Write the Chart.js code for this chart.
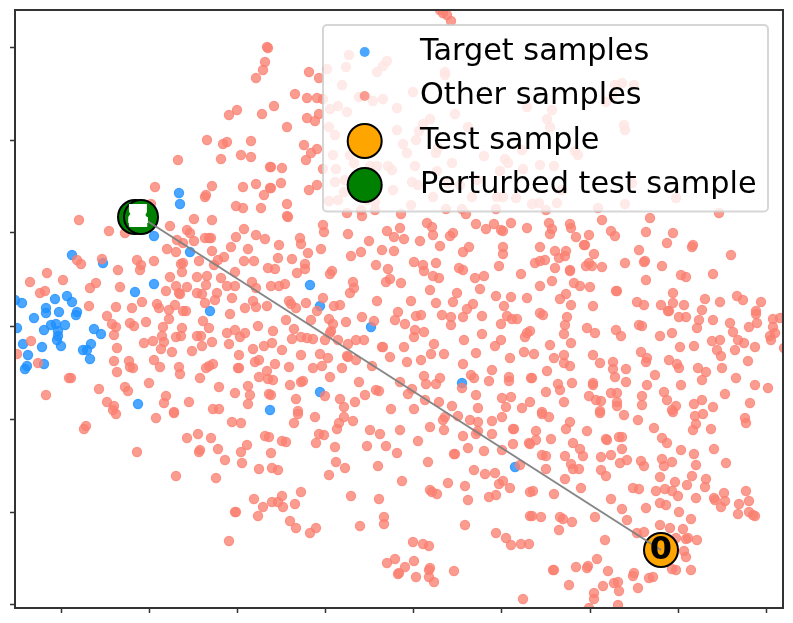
<!DOCTYPE html>
<html>
<head>
<meta charset="utf-8">
<title>Samples</title>
<script src="https://cdn.jsdelivr.net/npm/chart.js@4"></script>
<style>
  html, body { margin: 0; background: #fff; }
  canvas { display: block; }
</style>
</head>
<body>
<canvas id="chart" width="793" height="623" aria-label="Embedding of target and other samples"></canvas>
<script>
// values, axes have no printed units
const xTicks = [-352, -264, -176, -88, 0, 88, 177, 265, 353];
const yTicks = [278, 185, 93, 0, -93, -186, -278];

const legendLabels = ['Target samples', 'Other samples', 'Test sample', 'Perturbed test sample'];
const testLabel = '0';
const perturbedLabels = ['2', '1', '7', '4', '3', '8'];

const testSample = [[248, -224]];
const perturbedSamples = [[-278, 109], [-272, 109]];
const moveLine = [[248, -224], [-272, 109]];

const targetSamples = [
  [-234,133],[-233,122],[-259,90],[-223,74],[-341,71],[-310,63],[-259,42],[-278,34],[-398,26],[-391,23],
  [-358,27],[-346,30],[-341,24],[-367,18],[-367,13],[-354,14],[-336,14],[-337,11],[-379,8],[-203,15],
  [-396,-2],[-369,-4],[-362,1],[-357,2],[-348,1],[-355,-5],[-355,-10],[-356,-14],[-352,-20],[-319,-3],
  [-312,-8],[-390,-18],[-371,-21],[-385,-29],[-322,-18],[-330,-24],[-326,-24],[-323,-33],[-369,-38],[-386,-40],
  [-388,-43],[-275,-78],[-143,-84],[-103,41],[-93,20],[-42,-1],[49,-57],[-93,-66],[102,-141]
];

const otherSamples = [
  // upper left
  [-146,279],[-145,278],[-148,264],[-150,256],[-157,248],[-176,216],[-184,211],[-151,212],[-206,186],[-190,182],
  [-186,184],[-162,185],[-192,167],[-172,171],[-162,169],[-235,166],[-258,139],[-201,140],[-207,131],[-208,129],
  [-170,139],[-157,142],[-149,131],[-177,120],[-170,118],[-152,118],[-262,122],[-143,159],[-143,138],
  // middle left
  [-334,106],[-304,95],[-288,93],[-243,100],[-219,107],[-201,106],[-226,96],[-223,93],[-236,86],[-230,83],
  [-219,85],[-208,88],[-204,88],[-202,88],[-169,97],[-177,89],[-157,91],[-148,87],[-246,77],[-237,74],
  [-201,75],[-182,79],[-165,77],[-214,65],[-195,66],[-189,69],[-199,61],[-169,65],[-159,65],[-336,66],
  [-332,62],[-311,67],[-276,66],[-272,61],[-273,56],[-259,65],[-295,56],[-230,63],[-232,62],[-231,54],
  [-178,54],[-145,58],[-366,53],[-383,44],[-350,46],[-317,43],[-323,38],[-293,39],[-243,49],[-216,49],
  [-206,50],[-192,48],[-207,41],[-161,44],[-373,33],[-368,35],[-237,40],[-226,39],[-247,35],[-234,33],
  [-233,32],[-216,33],[-211,32],[-196,33],[-186,40],[-178,40],[-157,38],[-181,28],[-198,26],[-208,23],
  [-160,25],[-271,24],[-324,20],[-297,19],[-281,18],[-256,22],[-254,18],[-244,16],[-238,21],[-230,15],
  [-227,15],[-168,18],[-157,19],[-146,20],[-183,12],[-306,10],[-301,2],[-297,-1],[-299,-9],[-283,3],
  [-279,0],[-267,4],[-244,7],[-250,-1],[-231,-2],[-210,5],[-204,-2],[-155,0],[-186,-7],[-178,-4],
  [-173,-11],[-168,-7],[-251,-10],[-237,-11],[-232,-10],[-216,-10],[-212,-10],[-382,-15],[-269,-17],[-260,-15],
  [-249,-16],[-201,-16],[-211,-20],[-184,-18],[-296,-22],[-252,-23],[-241,-26],[-221,-25],[-160,-23],[-149,-20],
  [-174,-29],[-396,-28],[-375,-37],[-299,-35],[-284,-35],[-283,-41],[-280,-42],[-259,-34],[-253,-41],[-234,-41],
  [-200,-38],[-204,-40],[-207,-42],[-175,-42],[-174,-42],[-158,-36],[-154,-34],[-296,-46],[-233,-48],[-213,-52],
  [-154,-51],[-146,-45],[-145,-53],[-344,-52],[-342,-52],[-264,-57],[-314,-63],[-288,-61],[-285,-65],[-194,-61],
  [-165,-60],[-163,-69],[-178,-67],[-367,-69],[-247,-70],[-249,-77],[-224,-76],[-306,-76],[-299,-80],[-165,-78],
  [-144,-68],[-200,-83],[-194,-83],[-239,-86],
  // lower left
  [-327,-100],[-329,-103],[-297,-88],[-300,-84],[-257,-92],[-239,-87],[-181,-96],[-172,-97],[-226,-112],[-215,-108],
  [-202,-112],[-148,-110],[-144,-111],[-276,-126],[-213,-124],[-214,-126],[-195,-123],[-166,-119],[-172,-126],[-142,-127],
  [-188,-134],[-171,-137],[-154,-143],[-141,-142],[-237,-150],[-197,-152],[-159,-173],[-141,-176],[-150,-181],[-178,-186],
  [-177,-186],[-155,-190],[-184,-215],
  // under and around the legend
  [-104,254],[-94,248],[-118,232],[-106,228],[-96,228],[-90,227],[-139,220],[-106,208],[-98,205],[-94,212],
  [-126,199],[-109,181],[-102,173],[-96,177],[-107,166],[-142,159],[-131,158],[-90,157],[-132,143],[-142,138],
  [-104,136],[-96,141],[-126,122],[27,316],[30,313],[34,311],[38,305],[-64,271],[-86,257],[-67,259],
  [-26,265],[-30,260],[-36,254],[32,254],[32,251],[-71,241],[0,234],[-54,229],[-40,225],[-30,227],
  [-83,217],[-75,220],[-66,214],[-16,218],[42,212],[17,207],[10,202],[-84,199],[-16,196],[55,199],
  [-78,191],[3,186],[6,195],[-10,182],[-6,173],[-80,171],[-63,171],[23,173],[25,178],[71,170],
  [92,167],[95,163],[-59,163],[-43,160],[-36,160],[-25,160],[-21,156],[2,160],[-77,157],[39,163],
  [24,155],[87,155],[-78,144],[-68,146],[-60,147],[-40,149],[-20,136],[-1,144],[5,141],[35,143],
  [47,141],[64,146],[-69,134],[-84,125],[-75,126],[-46,126],[-38,124],[-2,121],[59,129],[84,129],
  [90,129],[103,128],[20,129],
  [209,243],[202,241],[221,241],[193,224],[200,231],[114,219],[139,216],[134,207],[137,199],[211,201],
  [212,196],[162,175],[165,171],[109,176],[127,161],[141,160],[110,157],[149,136],[219,143],[263,128],
  [119,122],[126,123],[144,123],[185,118],[212,122],
  // centre
  [-126,110],[-125,109],[-66,113],[-52,116],[-51,110],[-38,116],[-12,112],[33,117],[49,117],[53,112],
  [83,117],[63,102],[73,97],[81,102],[88,96],[90,95],[98,103],[114,98],[14,103],[19,99],
  [20,91],[40,93],[37,90],[-13,98],[-26,95],[-19,89],[-9,87],[7,85],[27,80],[-90,101],
  [-89,94],[-65,92],[-113,88],[-112,82],[-134,81],[-105,73],[-92,77],[-44,85],[-52,74],[-62,70],
  [-31,76],[-19,75],[50,74],[56,79],[90,79],[90,72],[-135,68],[-121,67],[-108,62],[-108,57],
  [-138,57],[-116,53],[-37,61],[-25,57],[1,64],[10,61],[11,55],[23,63],[46,58],[50,56],
  [86,60],[108,52],[-81,55],[-83,52],[20,50],[26,48],[62,48],[71,50],[-23,47],[-27,44],
  [-12,43],[-60,44],[-59,38],[-63,33],[-142,40],[-134,40],[-128,42],[17,36],[67,37],[44,33],
  [83,30],[98,29],[114,28],[-90,28],[-124,25],[-122,22],[-117,18],[-107,23],[-36,25],[-2,25],
  [23,23],[40,24],[60,22],[54,17],[91,20],[-79,20],[-73,21],[-96,15],[-15,14],[3,10],
  [8,11],[29,11],[38,9],[50,9],[69,10],[94,10],[99,7],[104,7],[-127,6],[-102,6],
  [-84,7],[-80,2],[-67,4],[-51,9],[-39,5],[-18,6],[-8,2],[38,1],[88,2],[-119,-3],
  [-140,-5],[-82,-5],[-83,-7],[2,-4],[11,-6],[1,-11],[69,-8],[-121,-13],[-112,-11],[-106,-12],
  [-100,-13],[-88,-14],[-75,-14],[-65,-18],[-57,-14],[-49,-14],[-141,-17],[-131,-24],[-31,-21],[-30,-21],
  [-9,-21],[21,-18],[51,-14],[88,-14],[82,-20],[114,-7],[112,-11],[-112,-29],[-93,-28],[-85,-32],
  [-66,-30],[-65,-31],[-57,-34],[-23,-31],[-6,-36],[8,-34],[18,-28],[31,-28],[63,-27],[97,-32],
  [111,-26],[-138,-38],[-124,-41],[-100,-42],[-91,-40],[-71,-42],[-41,-40],[50,-38],[79,-44],[-140,-54],
  [-83,-51],[58,-49],[61,-52],[96,-51],[96,-55],[76,-55],[-123,-59],[-112,-56],[-110,-55],[-54,-56],
  [-13,-56],[-1,-63],[11,-50],[13,-58],[23,-58],[27,-52],[49,-62],[-37,-64],[-34,-65],[-142,-69],
  [-117,-73],[-88,-70],[-73,-73],[-48,-69],[-58,-76],[-5,-68],[12,-74],[26,-76],[39,-80],[63,-69],
  [89,-72],[98,-71],[93,-81],[-69,-81],[1,-83],[-22,-83],[-115,-85],[65,-82],[109,-82],[117,-76],
  // lower centre
  [-115,-88],[-119,-97],[-98,-91],[-69,-91],[-74,-97],[-76,-103],[-60,-95],[-43,-104],[-33,-108],[-13,-104],
  [-131,-115],[-127,-116],[-94,-108],[-89,-109],[-97,-117],[-78,-121],[-46,-120],[-27,-120],[-16,-127],[5,-115],
  [-77,-136],[-68,-142],[-135,-144],[-84,-149],[-35,-140],[15,-136],[17,-101],[31,-104],[30,-94],[32,-91],
  [45,-90],[57,-94],[65,-96],[65,-105],[79,-95],[89,-91],[100,-103],[101,-103],[50,-110],[63,-108],
  [79,-108],[55,-122],[41,-128],[42,-128],[71,-125],[89,-124],[100,-118],[116,-117],[107,-139],[61,-144],
  [72,-148],[82,-147],[90,-155],[86,-158],[97,-162],[52,-160],[35,-157],[-11,-155],[17,-164],[19,-166],
  [24,-168],[-112,-166],[-62,-170],[-34,-173],[55,-174],[76,-171],[83,-169],[117,-166],[-131,-170],[-135,-176],
  [-130,-181],[-118,-178],[-123,-195],[-117,-202],[-97,-202],[-103,-207],[-53,-200],[-29,-191],[-29,-198],[52,-199],
  [117,-190],[83,-207],[93,-212],[98,-219],[108,-218],[116,-218],[0,-216],[10,-218],[16,-220],[-26,-237],
  [-18,-233],[-8,-241],[1,-235],[-15,-248],[-14,-247],[3,-251],[17,-242],[16,-244],[16,-251],[21,-256],
  [41,-245],[110,-273],
  // right
  [133,116],[136,103],[139,97],[137,92],[157,102],[158,98],[163,89],[176,91],[189,106],[198,95],
  [202,90],[237,108],[233,94],[260,93],[254,83],[280,81],[279,79],[171,81],[172,81],[127,79],
  [142,75],[153,75],[152,70],[146,68],[181,72],[226,76],[231,64],[232,65],[318,71],[306,113],
  [122,63],[127,65],[132,66],[142,58],[157,56],[157,55],[173,60],[176,63],[179,60],[189,59],
  [212,63],[249,60],[300,52],[268,51],[273,49],[233,46],[139,45],[127,40],[161,43],[167,40],
  [177,39],[203,35],[204,35],[260,33],[147,27],[153,32],[158,21],[180,20],[224,24],[231,21],
  [248,21],[260,23],[271,21],[292,27],[307,24],[324,30],[330,26],[348,24],[343,15],[343,12],
  [255,15],[256,15],[289,16],[127,13],[130,11],[154,9],[266,9],[273,9],[286,6],[300,6],
  [360,7],[367,8],[317,3],[344,3],[336,-1],[152,1],[226,1],[229,0],[174,-2],[182,-7],
  [203,-4],[208,-10],[284,-2],[259,-7],[247,-10],[151,-8],[117,-5],[320,-6],[360,-1],[362,-7],
  [357,-10],[358,-14],[371,-22],[299,-15],[307,-14],[325,-14],[331,-17],[342,-21],[322,-24],[304,-24],
  [308,-30],[281,-20],[267,-21],[158,-17],[137,-19],[121,-28],[228,-26],[234,-32],[233,-36],[180,-29],
  [151,-29],[141,-32],[151,-37],[157,-40],[187,-37],[200,-36],[200,-43],[213,-43],[202,-51],[256,-34],
  [264,-38],[266,-42],[285,-42],[293,-46],[309,-42],[335,-35],[323,-52],[289,-54],[268,-59],[242,-49],
  [134,-45],[118,-52],[119,-52],[213,-56],[234,-59],[342,-59],[355,-62],[145,-58],[147,-64],[159,-57],
  [180,-57],[180,-59],[133,-66],[176,-70],[183,-74],[188,-75],[198,-67],[204,-67],[204,-76],[204,-80],
  [229,-70],[229,-79],[251,-66],[254,-74],[263,-80],[259,-84],[281,-78],[289,-74],[300,-81],[312,-68],
  [337,-77],[151,-76],[187,-85],[129,-86],
  // lower right
  [129,-88],[136,-91],[187,-87],[211,-89],[157,-96],[153,-103],[123,-105],[174,-105],[225,-94],[241,-102],
  [260,-86],[282,-90],[290,-88],[283,-98],[280,-104],[298,-103],[332,-92],[333,-97],[193,-113],[194,-114],
  [206,-111],[209,-111],[138,-113],[123,-114],[117,-118],[160,-117],[167,-123],[170,-130],[209,-123],[249,-112],
  [254,-117],[268,-124],[281,-128],[301,-123],[152,-130],[129,-129],[133,-130],[188,-131],[198,-129],[158,-138],
  [160,-143],[166,-143],[133,-143],[188,-144],[193,-150],[207,-137],[214,-134],[228,-135],[231,-140],[249,-133],
  [259,-136],[251,-140],[283,-139],[313,-137],[247,-151],[279,-150],[293,-153],[292,-161],[274,-159],[262,-156],
  [152,-153],[168,-162],[120,-165],[141,-168],[220,-162],[226,-163],[243,-165],[252,-163],[259,-165],[265,-170],
  [283,-172],[198,-173],[301,-172],[302,-174],[311,-167],[312,-175],[308,-181],[333,-165],[326,-178],[336,-175],
  [325,-188],[336,-186],[340,-189],[342,-190],[247,-177],[253,-179],[233,-182],[209,-183],[266,-186],[278,-193],
  [214,-194],[182,-191],[119,-190],[128,-191],[147,-191],[150,-193],[159,-196],[146,-204],[247,-199],[257,-202],
  [270,-203],[224,-207],[231,-206],[263,-212],[273,-213],[275,-212],[284,-214],[192,-214],[271,-225],[273,-231],
  [184,-233],[140,-244],[141,-244],[163,-241],[175,-240],[174,-242],[195,-245],[221,-247],[220,-250],[259,-243],
  [263,-244],[278,-244],[236,-252],[240,-251],[156,-259],[190,-260],[201,-257],[205,-256],[206,-265],[225,-262],
  [181,-267],[181,-273],[176,-282],[205,-279]
];

const targetColor = 'rgba(30,144,255,0.8)';
const otherColor = 'rgba(250,128,114,0.78)';
const testColor = 'orange';
const perturbedColor = 'green';
const spineColor = '#333';

const toXY = pts => pts.map(p => ({ x: p[0], y: p[1] }));

// spines, digit labels and the legend box go on top of the datasets
const overlay = {
  id: 'overlay',
  afterDatasetsDraw(chart) {
    const { ctx, chartArea: a, scales } = chart;
    ctx.save();
    ctx.strokeStyle = spineColor;
    ctx.lineWidth = 2;
    ctx.strokeRect(a.left, a.top, a.right - a.left, a.bottom - a.top);

    ctx.textAlign = 'center';
    ctx.textBaseline = 'middle';
    ctx.font = 'bold 32px "DejaVu Sans"';
    ctx.fillStyle = '#000';
    ctx.fillText(testLabel, scales.x.getPixelForValue(testSample[0][0]), scales.y.getPixelForValue(testSample[0][1]) + 1);

    const px = scales.x.getPixelForValue(perturbedSamples[1][0]) - 3;
    const py = scales.y.getPixelForValue(perturbedSamples[1][1]);
    ctx.font = 'bold 29px "DejaVu Sans"';
    ctx.fillStyle = '#fff';
    ctx.strokeStyle = '#fff';
    ctx.lineWidth = 2;
    perturbedLabels.forEach(t => {
      ctx.strokeText(t, px, py + 1);
      ctx.fillText(t, px, py + 1);
    });

    // legend panel
    ctx.beginPath();
    ctx.roundRect(323, 25, 445, 186.5, 4);
    ctx.fillStyle = 'rgba(255,255,255,0.8)';
    ctx.fill();
    ctx.strokeStyle = 'rgba(204,204,204,0.8)';
    ctx.lineWidth = 2;
    ctx.stroke();

    const rows = [52, 96, 141, 185];
    const baselines = [60, 104, 148.5, 193];
    const styles = [
      { r: 5, fill: targetColor },
      { r: 5, fill: otherColor },
      { r: 17, fill: testColor, edge: '#000' },
      { r: 17, fill: perturbedColor, edge: '#000' }
    ];
    ctx.textAlign = 'left';
    ctx.textBaseline = 'alphabetic';
    legendLabels.forEach((label, i) => {
      const s = styles[i];
      ctx.beginPath();
      ctx.arc(364.7, rows[i], s.r, 0, Math.PI * 2);
      ctx.fillStyle = s.fill;
      ctx.fill();
      if (s.edge) {
        ctx.strokeStyle = s.edge;
        ctx.lineWidth = 2;
        ctx.stroke();
      }
      ctx.fillStyle = '#000';
      ctx.font = '30.3px "DejaVu Sans"';
      ctx.fillText(label, 420, baselines[i]);
    });
    ctx.restore();
  }
};

const axisStyle = {
  border: { display: true, color: spineColor, width: 2 },
  grid: { display: true, drawOnChartArea: false, drawTicks: true, tickLength: 5, tickColor: spineColor, tickWidth: 1.5 },
  ticks: { display: false, autoSkip: false }
};

new Chart(document.getElementById('chart'), {
  type: 'scatter',
  data: {
    datasets: [
      {
        label: legendLabels[0], data: toXY(targetSamples), order: 4,
        pointRadius: 4.6, borderWidth: 1.2,
        backgroundColor: targetColor, borderColor: targetColor
      },
      {
        label: legendLabels[1], data: toXY(otherSamples), order: 3,
        pointRadius: 4.6, borderWidth: 1.2,
        backgroundColor: otherColor, borderColor: otherColor
      },
      {
        label: legendLabels[2], data: toXY(testSample), order: 2,
        pointRadius: 17, borderWidth: 2,
        backgroundColor: testColor, borderColor: '#000'
      },
      {
        label: legendLabels[3], data: toXY(perturbedSamples), order: 2,
        pointRadius: 17, borderWidth: 2,
        backgroundColor: perturbedColor, borderColor: '#000'
      },
      {
        label: 'move', data: toXY(moveLine), order: 1,
        showLine: true, pointRadius: 0, borderWidth: 2, borderColor: 'rgba(128,128,128,0.95)'
      }
    ]
  },
  options: {
    responsive: false,
    animation: false,
    layout: { autoPadding: false, padding: { top: 10, right: 10, left: 0, bottom: 0 } },
    plugins: { legend: { display: false }, tooltip: { enabled: false } },
    scales: {
      x: {
        ...axisStyle, type: 'linear', min: -398, max: 370,
        afterBuildTicks: s => { s.ticks = xTicks.map(v => ({ value: v })); },
        afterFit: s => { s.height = 15; }
      },
      y: {
        ...axisStyle, type: 'linear', min: -282, max: 316,
        afterBuildTicks: s => { s.ticks = yTicks.map(v => ({ value: v })); },
        afterFit: s => { s.width = 15; }
      }
    }
  },
  plugins: [overlay]
});
</script>
</body>
</html>
